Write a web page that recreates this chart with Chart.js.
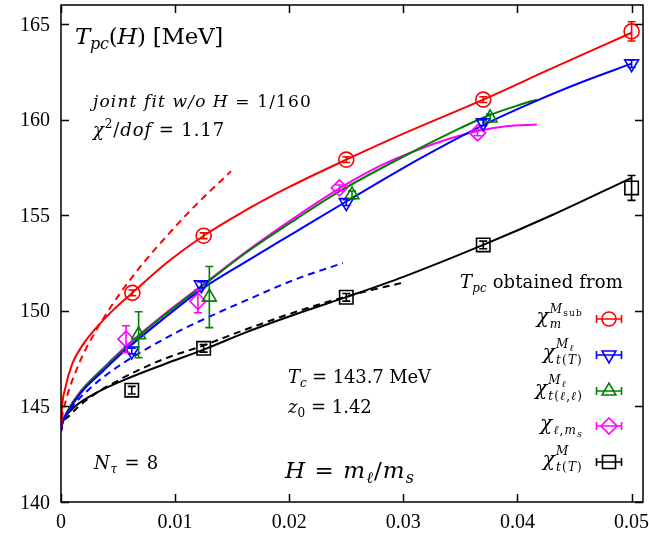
<!DOCTYPE html>
<html><head><meta charset="utf-8">
<script src="https://cdn.jsdelivr.net/npm/chart.js@4/dist/chart.umd.min.js"></script>
<style>html,body{margin:0;padding:0;background:#fff}canvas{display:block}</style>
</head><body>
<canvas id="c" width="649" height="533"></canvas>
<script>
// ---------- axis ticks ----------
const xTicks = [0, 0.01, 0.02, 0.03, 0.04, 0.05];
const xTickLabels = ['0', '0.01', '0.02', '0.03', '0.04', '0.05'];
const yTicks = [140, 145, 150, 155, 160, 165];
const yTickLabels = ['140', '145', '150', '155', '160', '165'];

// ---------- data points (T_pc with errors) ----------
const redX = [0.00625, 0.0125, 0.025, 0.037, 0.05];
const redY = [150.94, 153.93, 157.91, 161.05, 164.62];
const redErr = [0.15, 0.15, 0.15, 0.15, 0.5];

const blueX = [0.0062, 0.0123, 0.025, 0.037, 0.05];
const blueY = [147.9, 151.36, 155.66, 159.84, 162.93];
const blueErr = [0.15, 0.15, 0.15, 0.15, 0.2];

const greenX = [0.0068, 0.013, 0.0255, 0.0376];
const greenY = [148.75, 150.72, 156.07, 160.09];
const greenErr = [1.2, 1.6, 0.2, 0.2];

const magX = [0.0057, 0.012, 0.0244, 0.0365];
const magY = [148.52, 150.5, 156.43, 159.31];
const magErr = [0.7, 0.6, 0.15, 0.15];

const blkX = [0.0062, 0.0125, 0.025, 0.037, 0.05];
const blkY = [145.85, 148.04, 150.71, 153.45, 156.43];
const blkErr = [0.2, 0.2, 0.2, 0.2, 0.65];

// ---------- fit curves ----------
const redFitX = [0, 0.0001, 0.00035, 0.001, 0.002, 0.003, 0.0045, 0.00625, 0.0094, 0.0125, 0.0158, 0.02, 0.025, 0.03, 0.037, 0.043, 0.05];
const redFitY = [143.7, 145.0, 145.9, 147.25, 148.3, 149.05, 150.0, 150.94, 152.58, 153.93, 155.13, 156.48, 157.91, 159.27, 161.05, 162.68, 164.55];

const redDashX = [0, 0.0001, 0.0004, 0.0016, 0.003, 0.0037, 0.0053, 0.0072, 0.0094, 0.0111, 0.0125, 0.0149];
const redDashY = [143.7, 144.4, 145.25, 147.27, 148.9, 149.59, 151.02, 152.49, 154.0, 155.1, 155.94, 157.3];

const blueFitX = [0, 0.0001, 0.0006, 0.0018, 0.0038, 0.0056, 0.0088, 0.0125, 0.016, 0.0206, 0.025, 0.0314, 0.037, 0.0417, 0.046, 0.05];
const blueFitY = [143.7, 144.05, 144.7, 145.75, 146.92, 147.92, 149.5, 151.2, 152.5, 154.15, 155.72, 157.95, 159.72, 161.0, 162.05, 162.93];

const blueDashX = [0, 0.0001, 0.0003, 0.001, 0.0025, 0.005, 0.0075, 0.0104, 0.0132, 0.0163, 0.0206, 0.0247];
const blueDashY = [143.7, 144.1, 144.35, 144.99, 145.93, 147.09, 148.01, 148.96, 149.75, 150.57, 151.66, 152.5];

const greenFitX = [0, 0.0001, 0.0006, 0.0018, 0.0038, 0.0056, 0.0088, 0.0125, 0.016, 0.0206, 0.0244, 0.0314, 0.0344, 0.0373, 0.0402, 0.0417];
const greenFitY = [143.7, 144.08, 144.77, 145.82, 147.03, 148.05, 149.65, 151.35, 152.95, 154.8, 156.25, 158.5, 159.39, 160.18, 160.78, 161.05];

const magFitX = [0, 0.0001, 0.0006, 0.0018, 0.0038, 0.0056, 0.0088, 0.0125, 0.016, 0.0206, 0.0244, 0.028, 0.0314, 0.034, 0.0364, 0.039, 0.0417];
const magFitY = [143.7, 144.1, 144.8, 145.85, 147.07, 148.1, 149.7, 151.4, 153.0, 154.93, 156.41, 157.6, 158.45, 159.0, 159.4, 159.66, 159.75];

const blkFitX = [0, 0.0001, 0.0002, 0.0012, 0.003, 0.0062, 0.0091, 0.0125, 0.0163, 0.0206, 0.025, 0.03, 0.037, 0.043, 0.05];
const blkFitY = [143.7, 144.1, 144.28, 144.98, 145.68, 146.55, 147.22, 147.97, 148.9, 149.83, 150.72, 151.78, 153.45, 155.0, 156.96];

const blkDashX = [0, 0.0001, 0.0006, 0.0024, 0.0053, 0.0091, 0.0123, 0.0163, 0.0206, 0.0256, 0.0298];
const blkDashY = [143.7, 144.05, 144.44, 145.41, 146.45, 147.5, 148.15, 149.05, 149.95, 150.85, 151.45];

// ---------- colours / fonts ----------
const RED = '#ff0000', BLUE = '#0000ff', GREEN = '#007f00', MAG = '#ff00ff', BLK = '#000000';
const TXT = "'DejaVu Serif','Liberation Serif',serif";
const NUM = "'Liberation Serif','DejaVu Serif',serif";

const pts = (xs, ys) => xs.map((x, i) => ({ x: x, y: ys[i] }));

function pointSet(xs, ys, errs, color, style, r, rot) {
  return {
    data: pts(xs, ys), errs: errs, showLine: false,
    pointStyle: style, pointRadius: r, pointRotation: rot || 0,
    pointBorderColor: color, pointBackgroundColor: 'rgba(0,0,0,0)',
    pointBorderWidth: 1.6, borderColor: color
  };
}
function curveSet(xs, ys, color, dashed) {
  return {
    data: pts(xs, ys), showLine: true, pointRadius: 0, borderColor: color,
    borderWidth: 2, borderDash: dashed ? [7, 5] : [], cubicInterpolationMode: 'monotone',
    fill: false
  };
}

// ---------- text helpers (runs: [text, italic, size, dy]) ----------
function fnt(sz, it) { return (it ? 'italic ' : '') + sz + 'px ' + TXT; }
function natural(ctx, runs) {
  let w = 0, n = 0;
  for (const r of runs) {
    if (r.stack) {
      const a = natural(ctx, r.stack[0]), b = natural(ctx, r.stack[1]);
      const m = a.w >= b.w ? a : b; w += m.w; n += m.n;
    } else {
      ctx.font = fnt(r[2], r[1]); w += ctx.measureText(r[0]).width; n += [...r[0]].length;
    }
  }
  return { w: w, n: n };
}
function widthWith(ctx, runs, sp) { const k = natural(ctx, runs); return k.w + k.n * sp; }
function drawInner(ctx, runs, x, y, sp) {
  for (const r of runs) {
    if (r.stack) {
      const w = Math.max(widthWith(ctx, r.stack[0], sp), widthWith(ctx, r.stack[1], sp));
      drawInner(ctx, r.stack[0], x, y + r.sup, sp);
      drawInner(ctx, r.stack[1], x, y + r.sub, sp);
      x += w;
    } else {
      ctx.font = fnt(r[2], r[1]);
      const w0 = ctx.measureText(r[0]).width;
      if (Math.abs(sp) < 0.05) { ctx.fillText(r[0], x, y + (r[3] || 0)); }
      else {
        let cx = x;
        for (const ch of [...r[0]]) { ctx.fillText(ch, cx, y + (r[3] || 0)); cx += ctx.measureText(ch).width + sp; }
      }
      x += w0 + [...r[0]].length * sp;
    }
  }
  return x;
}
function drawText(ctx, runs, x, y, target, align) {
  ctx.textAlign = 'left'; ctx.textBaseline = 'alphabetic';
  const k = natural(ctx, runs);
  let sp = target ? (target - k.w) / Math.max(1, k.n) : 0;
  sp = Math.max(-1.2, Math.min(1.2, sp));
  const tot = k.w + k.n * sp;
  if (align === 'right') x -= tot;
  drawInner(ctx, runs, x, y, sp);
}

function drawSym(ctx, kind, x, y, r, color) {
  ctx.save();
  ctx.strokeStyle = color; ctx.lineWidth = 1.6; ctx.setLineDash([]);
  ctx.beginPath(); ctx.moveTo(x - 12.5, y); ctx.lineTo(x + 12.5, y);
  ctx.moveTo(x - 12.5, y - 4); ctx.lineTo(x - 12.5, y + 4);
  ctx.moveTo(x + 12.5, y - 4); ctx.lineTo(x + 12.5, y + 4); ctx.stroke();
  ctx.beginPath();
  if (kind === 'circle') ctx.arc(x, y, r, 0, Math.PI * 2);
  else if (kind === 'down') { ctx.moveTo(x - r * 0.866, y - r * 0.5); ctx.lineTo(x + r * 0.866, y - r * 0.5); ctx.lineTo(x, y + r); ctx.closePath(); }
  else if (kind === 'up') { ctx.moveTo(x - r * 0.866, y + r * 0.5); ctx.lineTo(x + r * 0.866, y + r * 0.5); ctx.lineTo(x, y - r); ctx.closePath(); }
  else if (kind === 'diamond') { ctx.moveTo(x - r, y); ctx.lineTo(x, y - r); ctx.lineTo(x + r, y); ctx.lineTo(x, y + r); ctx.closePath(); }
  else if (kind === 'square') { ctx.rect(x - r, y - r, 2 * r, 2 * r); }
  ctx.stroke();
  ctx.restore();
}

// ---------- plugins ----------
const errorBars = {
  id: 'errorBars',
  afterDatasetsDraw(chart) {
    const ctx = chart.ctx, ys = chart.scales.y;
    chart.data.datasets.forEach((ds, i) => {
      if (!ds.errs) return;
      const meta = chart.getDatasetMeta(i);
      ctx.save();
      ctx.strokeStyle = ds.pointBorderColor; ctx.lineWidth = 1.6; ctx.setLineDash([]);
      meta.data.forEach((el, j) => {
        const v = ds.data[j].y, e = ds.errs[j];
        const y1 = ys.getPixelForValue(v - e), y2 = ys.getPixelForValue(v + e);
        ctx.beginPath();
        ctx.moveTo(el.x, y1); ctx.lineTo(el.x, y2);
        ctx.moveTo(el.x - 4, y1); ctx.lineTo(el.x + 4, y1);
        ctx.moveTo(el.x - 4, y2); ctx.lineTo(el.x + 4, y2);
        ctx.stroke();
      });
      ctx.restore();
    });
  }
};

const frame = {
  id: 'frame',
  afterDraw(chart) {
    const ctx = chart.ctx, a = chart.chartArea, xs = chart.scales.x, ys = chart.scales.y;
    ctx.save();
    ctx.strokeStyle = '#000'; ctx.lineWidth = 1.5; ctx.setLineDash([]);
    ctx.strokeRect(a.left, a.top, a.right - a.left, a.bottom - a.top);
    ctx.beginPath();
    xTicks.forEach(v => {
      const px = Math.round(xs.getPixelForValue(v)) + 0.5;
      ctx.moveTo(px, a.bottom); ctx.lineTo(px, a.bottom - 8);
      ctx.moveTo(px, a.top); ctx.lineTo(px, a.top + 8);
    });
    yTicks.forEach(v => {
      const py = Math.round(ys.getPixelForValue(v)) + 0.5;
      ctx.moveTo(a.left, py); ctx.lineTo(a.left + 8, py);
      ctx.moveTo(a.right, py); ctx.lineTo(a.right - 8, py);
    });
    ctx.stroke();

    // tick labels
    ctx.fillStyle = '#000';
    ctx.font = '20px ' + NUM; ctx.textBaseline = 'alphabetic';
    ctx.textAlign = 'center';
    xTicks.forEach((v, i) => ctx.fillText(xTickLabels[i], xs.getPixelForValue(v), 527.5));
    ctx.textAlign = 'right';
    yTicks.forEach((v, i) => ctx.fillText(yTickLabels[i], 50, ys.getPixelForValue(v) + 6.5));

    // annotations
    drawText(ctx, [['T', true, 23], ['pc', true, 16, 5], ['(', false, 23], ['H', true, 23], [') [MeV]', false, 23]], 75, 44, 148);
    drawText(ctx, [['joint fit w/o ', true, 17], ['H', true, 17], [' = 1/160', false, 17]], 93, 107, 219);
    drawText(ctx, [['χ', true, 18], ['2', false, 12, -8], ['/', false, 18], ['dof', true, 18], [' = 1.17', false, 18]], 93, 136, 132);
    drawText(ctx, [['T', true, 18], ['c', true, 12, 4], [' = 143.7 MeV', false, 18]], 288, 383, 143);
    drawText(ctx, [['z', true, 18], ['0', false, 12, 4], [' = 1.42', false, 18]], 288, 413, 84);
    drawText(ctx, [['N', true, 18], ['τ', true, 12, 4], [' = 8', false, 18]], 94, 469, 65);
    drawText(ctx, [['H', true, 23], [' = ', false, 23], ['m', true, 23], ['ℓ', true, 16, 5], ['/', false, 23], ['m', true, 23], ['s', true, 16, 5]], 285, 478, 130);

    // legend
    drawText(ctx, [['T', true, 18], ['pc', true, 12, 4], [' obtained from', false, 18]], 623, 288, 163, 'right');
    const LX = 583, SX = 609;
    const tT = [['t', true, 12], ['(', false, 12], ['T', true, 12], [')', false, 12]];
    const tll = [['t', true, 12], ['(', false, 12], ['ℓ', true, 12], [',', false, 12], ['ℓ', true, 12], [')', false, 12]];
    const Ml = [['M', true, 12], ['ℓ', true, 9, 3]];
    const rows = [
      { y: 319, c: RED, k: 'circle', r: 7, w: 51, t: [['χ', true, 20], { stack: [[['M', true, 12], ['sub', false, 9, 3]], [['m', true, 12]]], sup: -10, sub: 5 }] },
      { y: 355, c: BLUE, k: 'down', r: 8, w: 43, t: [['χ', true, 20], { stack: [Ml, tT], sup: -11, sub: 5 }] },
      { y: 391, c: GREEN, k: 'up', r: 8, w: 48, t: [['χ', true, 20], { stack: [Ml, tll], sup: -11, sub: 5 }] },
      { y: 426, c: MAG, k: 'diamond', r: 8, w: 45, t: [['χ', true, 20], ['ℓ', true, 12, 4], [',', false, 12, 4], ['m', true, 12, 4], ['s', true, 9, 7]] },
      { y: 462, c: BLK, k: 'square', r: 6.5, w: 43, t: [['χ', true, 20], { stack: [[['M', true, 12]], tT], sup: -11, sub: 5 }] }
    ];
    rows.forEach(rw => {
      ctx.fillStyle = '#000';
      drawText(ctx, rw.t, LX, rw.y + 4, rw.w, 'right');
      drawSym(ctx, rw.k, SX, rw.y, rw.r, rw.c);
    });
    ctx.restore();
  }
};

new Chart(document.getElementById('c'), {
  type: 'scatter',
  data: {
    datasets: [
      pointSet(redX, redY, redErr, RED, 'circle', 7.5),
      pointSet(blueX, blueY, blueErr, BLUE, 'triangle', 8, 180),
      pointSet(greenX, greenY, greenErr, GREEN, 'triangle', 8, 0),
      pointSet(magX, magY, magErr, MAG, 'rectRot', 8),
      pointSet(blkX, blkY, blkErr, BLK, 'rect', 9.5),
      curveSet(redFitX, redFitY, RED, false),
      curveSet(redDashX, redDashY, RED, true),
      curveSet(blueFitX, blueFitY, BLUE, false),
      curveSet(blueDashX, blueDashY, BLUE, true),
      curveSet(greenFitX, greenFitY, GREEN, false),
      curveSet(magFitX, magFitY, MAG, false),
      curveSet(blkFitX, blkFitY, BLK, false),
      curveSet(blkDashX, blkDashY, BLK, true)
    ]
  },
  options: {
    responsive: false, animation: false, devicePixelRatio: 1,
    layout: { autoPadding: false, padding: { left: 0, right: 6, top: 5, bottom: 0 } },
    plugins: { legend: { display: false }, tooltip: { enabled: false } },
    scales: {
      x: {
        type: 'linear', min: 0, max: 0.051,
        afterBuildTicks: s => { s.ticks = xTicks.map(v => ({ value: v })); },
        afterFit: s => { s.height = 31; },
        grid: { display: false, drawTicks: false }, border: { display: false },
        ticks: { display: false }
      },
      y: {
        type: 'linear', min: 140, max: 166,
        afterBuildTicks: s => { s.ticks = yTicks.map(v => ({ value: v })); },
        afterFit: s => { s.width = 61; },
        grid: { display: false, drawTicks: false }, border: { display: false },
        ticks: { display: false }
      }
    }
  },
  plugins: [errorBars, frame]
});
</script>
</body></html>
